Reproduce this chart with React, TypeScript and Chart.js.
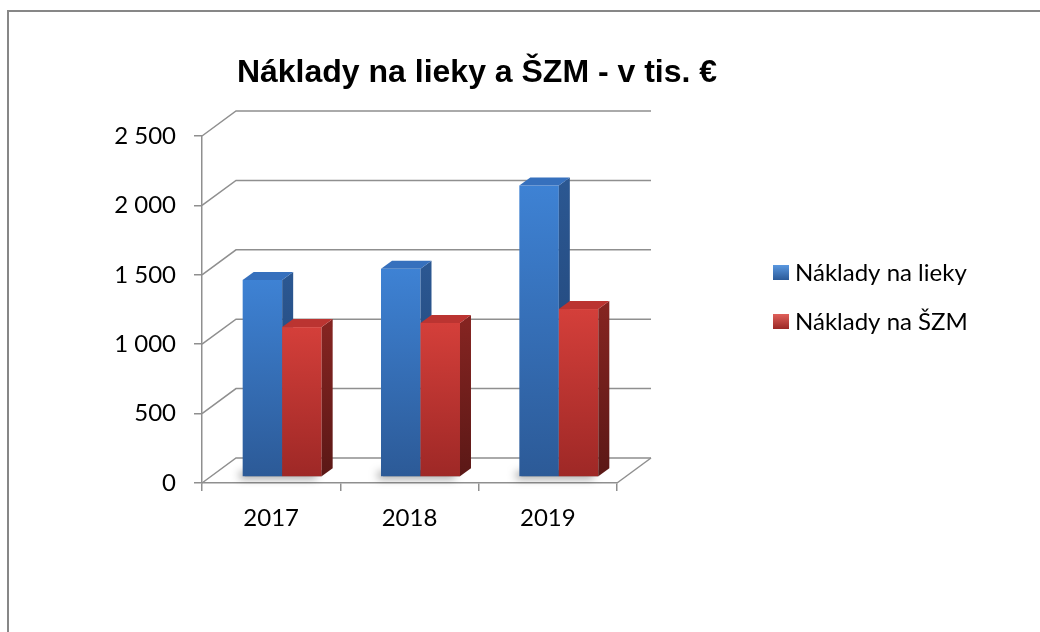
import React, { useEffect, useRef } from "react";
import { Chart, registerables } from "chart.js";

Chart.register(...registerables);

// ---- data ----
const categories = ["2017", "2018", "2019"];
const seriesNames = ["Náklady na lieky", "Náklady na ŠZM"];
const liekyValues = [1420, 1500, 2100];
const szmValues = [1080, 1110, 1210];
const yTickValues = [0, 500, 1000, 1500, 2000, 2500];
const titleText = "Náklady na lieky a ŠZM - v tis. €";

// ---- styles ----
const GRID = "#8f8f8f";
const WALL_DX = 34;
const WALL_DY = -25;
const FACE_DX = 11;
const FACE_DY = -6;
const DEPTH_DX = 11;
const DEPTH_DY = -8;

const palettes = [
  { front: ["#3e82d4", "#2c5a97"], side: ["#2b5791", "#1f4172"], top: "#3670bd", legend: ["#5a98e0", "#2b5a98"] },
  { front: ["#d43f3a", "#9e2826"], side: ["#842421", "#5b1816"], top: "#bb3431", legend: ["#e0605a", "#9a2826"] },
];

const fmt = (v: number) => String(v).replace(/\B(?=(\d{3})+(?!\d))/g, " ");

function drawBar(ctx: CanvasRenderingContext2D, x0: number, x1: number, yTop: number, yBot: number, pal: any) {
  let g = ctx.createLinearGradient(0, yTop, 0, yBot);
  g.addColorStop(0, pal.front[0]);
  g.addColorStop(1, pal.front[1]);
  ctx.fillStyle = g;
  ctx.fillRect(x0, yTop, x1 - x0, yBot - yTop);

  g = ctx.createLinearGradient(0, yTop, 0, yBot);
  g.addColorStop(0, pal.side[0]);
  g.addColorStop(1, pal.side[1]);
  ctx.fillStyle = g;
  ctx.beginPath();
  ctx.moveTo(x1, yTop);
  ctx.lineTo(x1 + DEPTH_DX, yTop + DEPTH_DY);
  ctx.lineTo(x1 + DEPTH_DX, yBot + DEPTH_DY);
  ctx.lineTo(x1, yBot);
  ctx.closePath();
  ctx.fill();

  ctx.fillStyle = pal.top;
  ctx.beginPath();
  ctx.moveTo(x0, yTop);
  ctx.lineTo(x0 + DEPTH_DX, yTop + DEPTH_DY);
  ctx.lineTo(x1 + DEPTH_DX, yTop + DEPTH_DY);
  ctx.lineTo(x1, yTop);
  ctx.closePath();
  ctx.fill();
}

const pseudo3d = {
  id: "pseudo3d",
  beforeDraw(chart: any) {
    const ctx = chart.ctx;
    ctx.save();
    ctx.fillStyle = "#ffffff";
    ctx.fillRect(0, 0, chart.width, chart.height);
    ctx.strokeStyle = "#878787";
    ctx.lineWidth = 2;
    ctx.strokeRect(8, 11, chart.width + 40, chart.height + 40);
    ctx.restore();
  },
  beforeDatasetsDraw(chart: any) {
    const ctx = chart.ctx;
    const { left, right, bottom } = chart.chartArea;
    const y = chart.scales.y;
    ctx.save();
    ctx.strokeStyle = GRID;
    ctx.lineWidth = 1.5;
    y.ticks.forEach((t: any) => {
      const py = y.getPixelForValue(t.value);
      ctx.beginPath();
      ctx.moveTo(left, py);
      ctx.lineTo(left + WALL_DX, py + WALL_DY);
      ctx.lineTo(right + WALL_DX, py + WALL_DY);
      ctx.stroke();
    });
    ctx.beginPath();
    ctx.moveTo(right, bottom);
    ctx.lineTo(right + WALL_DX, bottom + WALL_DY);
    ctx.stroke();

    const metas = chart.data.datasets.map((_: any, i: number) => chart.getDatasetMeta(i));
    for (let j = 0; j < categories.length; j++) {
      const first = metas[0].data[j];
      const last = metas[metas.length - 1].data[j];
      const sx0 = first.x - first.width / 2 + FACE_DX;
      const sx1 = last.x + last.width / 2 + FACE_DX;
      const sb = first.base + FACE_DY;
      ctx.save();
      ctx.shadowColor = "rgba(0,0,0,0.45)";
      ctx.shadowBlur = 9;
      ctx.shadowOffsetX = -5;
      ctx.shadowOffsetY = 2;
      ctx.fillStyle = "#777";
      ctx.fillRect(sx0 + 2, sb - 6, sx1 - sx0 - 2, 6);
      ctx.restore();
      for (let i = 0; i < metas.length; i++) {
        const el = metas[i].data[j];
        const x0 = el.x - el.width / 2 + FACE_DX;
        const x1 = el.x + el.width / 2 + FACE_DX;
        drawBar(ctx, x0, x1, el.y + FACE_DY, el.base + FACE_DY, palettes[i]);
      }
    }
    ctx.restore();
    return false;
  },
  afterDraw(chart: any) {
    const ctx = chart.ctx;
    ctx.save();
    ctx.fillStyle = "#000";
    ctx.font = 'bold 32px "Liberation Sans", Arial, sans-serif';
    ctx.textAlign = "center";
    ctx.textBaseline = "middle";
    ctx.fillText(titleText, 477, 73);

    ctx.font = '24px Lato, "Open Sans", sans-serif';
    ctx.textAlign = "left";
    chart.data.datasets.forEach((ds: any, i: number) => {
      const cy = 272 + i * 49;
      const pal = palettes[i];
      const g = ctx.createLinearGradient(0, cy - 7, 0, cy + 8);
      g.addColorStop(0, pal.legend[0]);
      g.addColorStop(1, pal.legend[1]);
      ctx.fillStyle = g;
      ctx.fillRect(773, cy - 7, 16, 15);
      ctx.fillStyle = "#000";
      ctx.fillText(ds.label, 795, cy + 1);
    });
    ctx.restore();
  },
};

export default function App() {
  const ref = useRef<HTMLCanvasElement | null>(null);
  useEffect(() => {
    if (!ref.current) return;
    const tickFont = { family: 'Lato, "Open Sans", sans-serif', size: 24 };
    const chart = new Chart(ref.current, {
      type: "bar",
      data: {
        labels: categories,
        datasets: [
          { label: seriesNames[0], data: liekyValues, backgroundColor: palettes[0].front[0] },
          { label: seriesNames[1], data: szmValues, backgroundColor: palettes[1].front[0] },
        ],
      },
      options: {
        animation: false,
        responsive: true,
        maintainAspectRatio: false,
        layout: { padding: { left: 102, right: 423, top: 136, bottom: 89 } },
        datasets: { bar: { categoryPercentage: 0.571, barPercentage: 1.0 } },
        plugins: {
          legend: { display: false },
          title: { display: false },
          tooltip: { enabled: false },
        },
        scales: {
          x: {
            afterFit: (s: any) => { s.height = 60; },
            grid: { offset: true, drawOnChartArea: false, drawTicks: true, tickLength: 8, color: GRID, lineWidth: 1.5 },
            border: { display: true, color: GRID, width: 1.5 },
            ticks: { color: "#000", font: tickFont, padding: 13 },
          },
          y: {
            min: 0,
            max: 2500,
            afterFit: (s: any) => { s.width = 100; },
            afterBuildTicks: (s: any) => { s.ticks = yTickValues.map((v) => ({ value: v })); },
            grid: { drawOnChartArea: false, drawTicks: true, tickLength: 8, color: GRID, lineWidth: 1.5 },
            border: { display: true, color: GRID, width: 1.5 },
            ticks: { color: "#000", font: tickFont, padding: 18, callback: (v: any) => fmt(Number(v)) },
          },
        },
      },
      plugins: [pseudo3d],
    });
    return () => chart.destroy();
  }, []);
  return (
    <div style={{ position: "absolute", left: 0, top: 0, width: 1040, height: 632 }}>
      <canvas ref={ref} />
    </div>
  );
}
